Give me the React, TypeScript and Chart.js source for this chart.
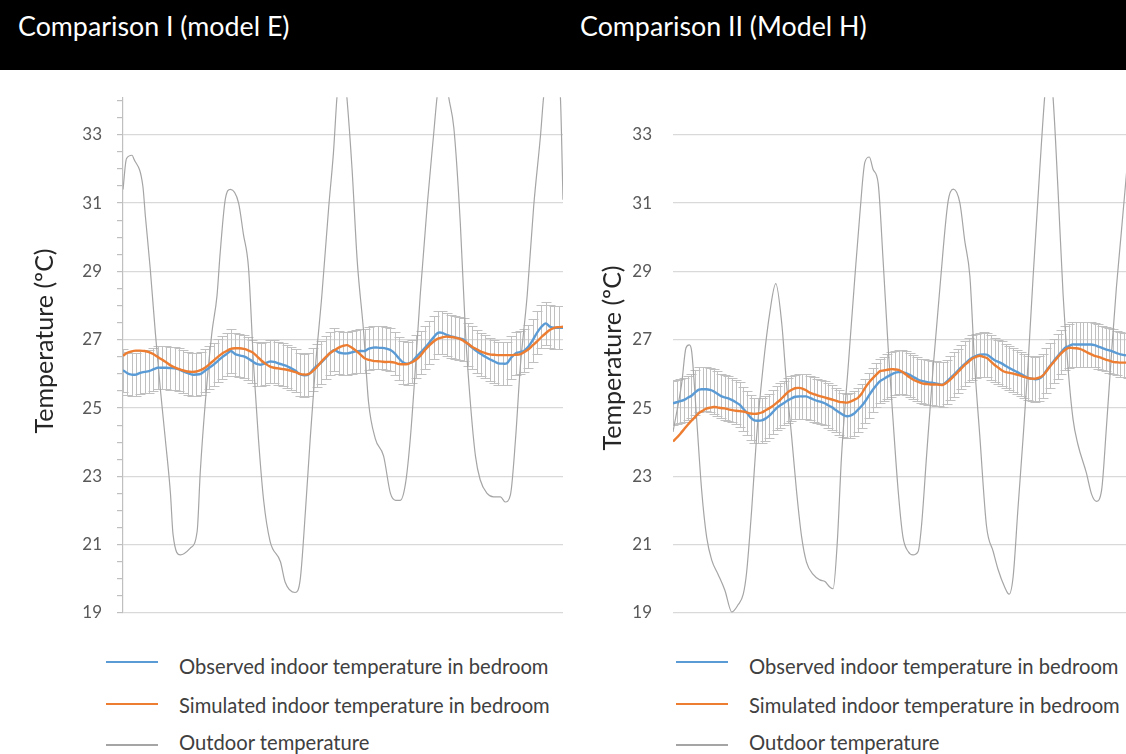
import React, { useEffect, useRef } from "react";
import { Chart, registerables } from "chart.js";

Chart.register(...registerables);

const FONT = "Lato, 'Open Sans', sans-serif";
const BLUE = "#5B9BD5";
const ORANGE = "#ED7D31";
const OUTDOOR = "#A5A5A5";
const ERRBAR = "#C0C0C0";

const yLabelValues = [19, 21, 23, 25, 27, 29, 31, 33];

// ---------- Comparison I (model E) : hourly values, hour 0..102 ----------
const p1Observed = [
  26.11, 26.02, 25.98, 25.98, 26.03, 26.06, 26.08, 26.13, 26.18, 26.18,
  26.18, 26.17, 26.16, 26.13, 26.07, 26.02, 25.98, 25.98, 26.0, 26.09,
  26.18, 26.27, 26.38, 26.49, 26.58, 26.67, 26.58, 26.54, 26.51, 26.45,
  26.37, 26.29, 26.27, 26.31, 26.36, 26.35, 26.31, 26.27, 26.23, 26.16,
  26.09, 25.99, 25.96, 25.98, 26.12, 26.24, 26.34, 26.47, 26.61, 26.7,
  26.63, 26.6, 26.6, 26.63, 26.66, 26.67, 26.67, 26.74, 26.77, 26.77,
  26.76, 26.74, 26.7, 26.6, 26.45, 26.33, 26.3, 26.36, 26.5, 26.63,
  26.76, 26.91, 27.07, 27.2, 27.2, 27.14, 27.1, 27.07, 27.04, 27.0,
  26.87, 26.76, 26.66, 26.58, 26.5, 26.43, 26.37, 26.31, 26.3, 26.31,
  26.48, 26.6, 26.64, 26.68, 26.8, 26.99, 27.21, 27.38, 27.48, 27.38,
  27.35, 27.35, 27.35,
];
const p1Simulated = [
  26.53, 26.62, 26.66, 26.68, 26.68, 26.67, 26.64, 26.58, 26.5, 26.42,
  26.34, 26.25, 26.19, 26.14, 26.1, 26.07, 26.06, 26.07, 26.11, 26.18,
  26.28, 26.39, 26.5, 26.6, 26.67, 26.73, 26.75, 26.75, 26.73, 26.69,
  26.63, 26.52, 26.4, 26.3, 26.22, 26.18, 26.16, 26.14, 26.12, 26.09,
  26.05, 26.0, 25.98, 25.99, 26.08, 26.21, 26.36, 26.49, 26.61, 26.69,
  26.77, 26.82, 26.84, 26.77, 26.68, 26.57, 26.46, 26.41, 26.38, 26.37,
  26.36, 26.35, 26.35, 26.33, 26.29, 26.28, 26.29, 26.34, 26.42, 26.54,
  26.7, 26.83, 26.95, 27.03, 27.07, 27.09, 27.08, 27.06, 27.03, 26.96,
  26.88, 26.79, 26.72, 26.65, 26.61, 26.57, 26.56, 26.55, 26.55, 26.55,
  26.55, 26.56, 26.57, 26.64, 26.72, 26.84, 26.95, 27.08, 27.19, 27.29,
  27.35, 27.37, 27.38,
];
const p1OutdoorHours = [
  0, 0.8, 2.1, 2.5, 4.6, 5.2, 6.3, 7.5, 8.7, 9.8,
  11.0, 11.6, 13.3, 15.6, 17.2, 17.9, 19.1, 20.6, 21.8, 22.5,
  23.7, 24.9, 26.8, 27.9, 29.1, 30.3, 31.4, 32.6, 34.1, 36.5,
  37.6, 39.9, 41.1, 42.3, 43.4, 44.6, 46.1, 47.7, 48.8, 49.6,
  50.8, 51.9, 53.1, 54.3, 55.8, 56.9, 58.5, 60.4, 62.0, 63.2,
  64.3, 65.5, 66.6, 67.8, 68.9, 70.5, 72.0, 72.8, 74.2, 75.5,
  76.7, 78.2, 79.4, 80.5, 81.7, 82.8, 84.4, 85.9, 87.5, 88.6,
  89.8, 91.0, 92.1, 93.7, 95.2, 96.8, 97.5, 99.5, 101.4, 102,
];
const p1OutdoorTemps = [
  31.4, 32.3, 32.4, 32.3, 31.5, 30.6, 29.1, 27.2, 25.5, 24.1,
  22.5, 21.3, 20.7, 20.9, 21.4, 23.1, 25.2, 27.2, 28.3, 29.5,
  31.1, 31.4, 31.0, 30.1, 29.1, 26.2, 24.1, 22.3, 21.1, 20.5,
  19.9, 19.6, 20.0, 22.0, 24.1, 26.2, 28.3, 30.9, 32.5, 34.1,
  35.5, 34.1, 32.0, 29.3, 27.2, 25.2, 24.1, 23.6, 22.5, 22.3,
  22.3, 22.8, 24.1, 26.2, 28.3, 30.9, 33.0, 34.1, 35.3, 34.1,
  33.2, 30.4, 27.2, 25.2, 23.6, 22.9, 22.5, 22.4, 22.4, 22.25,
  22.45, 24.1, 26.2, 28.3, 30.9, 33.0, 34.1, 35.8, 34.1, 31.1,
];
const p1ErrorMargin = 0.63;

// ---------- Comparison II (Model H) : hourly values, hour 0..123 ----------
const p2Observed = [
  25.14, 25.17, 25.2, 25.24, 25.3, 25.36, 25.46, 25.54, 25.55, 25.55,
  25.53, 25.49, 25.42, 25.35, 25.31, 25.28, 25.23, 25.17, 25.1, 24.98,
  24.86, 24.72, 24.64, 24.63, 24.64, 24.69, 24.77, 24.88, 25.0, 25.08,
  25.15, 25.22, 25.28, 25.33, 25.34, 25.34, 25.34, 25.3, 25.25, 25.21,
  25.18, 25.14, 25.08, 25.02, 24.94, 24.87, 24.8, 24.76, 24.78, 24.84,
  24.95, 25.06, 25.2, 25.37, 25.53, 25.67, 25.79, 25.85, 25.92, 25.98,
  26.03, 26.05, 26.05, 26.02, 25.97, 25.91, 25.85, 25.8, 25.78, 25.75,
  25.74, 25.72, 25.7, 25.69, 25.77, 25.88, 25.98, 26.09, 26.2, 26.3,
  26.4, 26.48, 26.53, 26.56, 26.57, 26.56, 26.48, 26.4, 26.35, 26.3,
  26.23, 26.17, 26.11, 26.06, 26.0, 25.94, 25.88, 25.86, 25.84, 25.86,
  25.94, 26.1, 26.24, 26.38, 26.51, 26.64, 26.76, 26.81, 26.86, 26.86,
  26.86, 26.86, 26.86, 26.86, 26.84, 26.8, 26.76, 26.72, 26.69, 26.65,
  26.61, 26.57, 26.55, 26.54,
];
const p2Simulated = [
  24.02, 24.13, 24.25, 24.38, 24.51, 24.63, 24.74, 24.85, 24.92, 24.98,
  25.01, 25.03, 25.02, 25.0, 24.99, 24.96, 24.94, 24.92, 24.91, 24.9,
  24.87, 24.84, 24.83, 24.84, 24.87, 24.93, 24.99, 25.06, 25.15, 25.24,
  25.35, 25.46, 25.53, 25.58, 25.59, 25.57, 25.52, 25.45, 25.41, 25.37,
  25.34, 25.31, 25.28, 25.25, 25.22, 25.18, 25.17, 25.16, 25.19, 25.24,
  25.3, 25.42, 25.6, 25.75, 25.87, 25.98, 26.08, 26.1, 26.12, 26.14,
  26.13, 26.12, 26.06, 25.98, 25.9, 25.83, 25.78, 25.74, 25.71, 25.7,
  25.69, 25.69, 25.68, 25.68, 25.74, 25.83, 25.94, 26.05, 26.16, 26.27,
  26.36, 26.45, 26.5, 26.53, 26.5, 26.46, 26.36, 26.26, 26.18, 26.1,
  26.05, 26.03, 26.01, 25.98, 25.95, 25.91, 25.88, 25.86, 25.86, 25.89,
  25.95, 26.08, 26.22, 26.35, 26.48, 26.6, 26.7, 26.76, 26.76, 26.75,
  26.73, 26.69, 26.63, 26.58, 26.53, 26.5, 26.46, 26.42, 26.39, 26.35,
  26.34, 26.33, 26.33, 26.33,
];
const p2OutdoorHours = [
  0, 2.35, 3.5, 4.4, 5.05, 6.4, 7.76, 9.1, 10.5, 12.2,
  14.05, 15.9, 17.6, 19.0, 19.9, 21.3, 22.6, 24.4, 26.2, 27.8,
  29.4, 30.7, 32.1, 33.4, 34.8, 36.1, 37.9, 39.7, 41.1, 42.4,
  43.3, 44.4, 45.6, 47.4, 49.2, 50.5, 51.9, 53.1, 54.1, 55.5,
  56.8, 58.2, 59.5, 60.9, 62.2, 63.6, 64.9, 66.3, 67.2, 68.6,
  70.4, 72.2, 74.4, 75.8, 77.6, 78.9, 80.3, 81.6, 83.0, 84.8,
  86.6, 87.9, 89.7, 90.9, 92.0, 93.3, 94.7, 96.0, 97.4, 99.2,
  100.5, 101.6, 102.8, 104.1, 105.5, 106.8, 108.2, 109.5, 111.8, 113.2,
  114.5, 115.9, 117.2, 118.6, 119.9, 121.3, 123.0, 124.0,
];
const p2OutdoorTemps = [
  24.3, 25.72, 26.76, 26.85, 26.66, 24.67, 22.58, 21.22, 20.54, 20.13,
  19.66, 19.03, 19.24, 19.55, 20.18, 22.06, 24.15, 26.24, 27.81, 28.64,
  27.49, 25.72, 24.15, 22.58, 21.22, 20.49, 20.13, 19.97, 19.92, 19.76,
  19.71, 21.01, 23.63, 26.24, 28.85, 30.63, 32.2, 32.35, 31.99, 31.57,
  29.37, 26.76, 24.67, 22.58, 21.22, 20.8, 20.7, 20.8, 21.54, 23.63,
  26.24, 28.54, 31.05, 31.41, 31.0, 29.9, 28.85, 26.24, 24.15, 21.54,
  20.8, 20.28, 19.76, 19.55, 20.07, 22.06, 24.15, 26.24, 28.85, 31.99,
  34.08, 35.3, 34.08, 31.46, 28.33, 26.24, 24.67, 23.94, 23.1, 22.48,
  22.27, 22.58, 24.4, 26.6, 28.5, 30.2, 32.3, 33.5,
];
const p2ErrorMargin = 0.65;

const legendLabels = [
  "Observed indoor temperature in bedroom",
  "Simulated indoor temperature in bedroom",
  "Outdoor temperature",
];

const errorBarPlugin = {
  id: "errorBars",
  beforeDatasetsDraw(chart: any, _args: any, opts: any) {
    if (!opts || opts.datasetIndex === undefined) return;
    const ds = chart.data.datasets[opts.datasetIndex];
    const xs = chart.scales.x;
    const ys = chart.scales.y;
    const a = chart.chartArea;
    const ctx = chart.ctx;
    ctx.save();
    ctx.beginPath();
    ctx.rect(a.left, a.top, a.right - a.left, a.bottom - a.top);
    ctx.clip();
    ctx.strokeStyle = opts.color;
    ctx.lineWidth = 1;
    ctx.beginPath();
    ds.data.forEach((p: any) => {
      const x = Math.round(xs.getPixelForValue(p.x)) + 0.5;
      const yTop = Math.round(ys.getPixelForValue(p.y + opts.margin)) + 0.5;
      const yBot = Math.round(ys.getPixelForValue(p.y - opts.margin)) + 0.5;
      ctx.moveTo(x, yTop);
      ctx.lineTo(x, yBot);
      ctx.moveTo(x - opts.cap, yTop);
      ctx.lineTo(x + opts.cap, yTop);
      ctx.moveTo(x - opts.cap, yBot);
      ctx.lineTo(x + opts.cap, yBot);
    });
    ctx.stroke();
    ctx.restore();
  },
};

const isLabelValue = (v: number) => yLabelValues.some((t) => Math.abs(t - v) < 1e-6);

function buildConfig(p: {
  observed: number[];
  simulated: number[];
  outHours: number[];
  outTemps: number[];
  margin: number;
  xMax: number;
  axisWidth: number;
  showAxisLine: boolean;
  padding: any;
}): any {
  const obs = p.observed.map((v, i) => ({ x: i, y: v }));
  const sim = p.simulated.map((v, i) => ({ x: i, y: v }));
  const out = p.outTemps.map((v, i) => ({ x: p.outHours[i], y: v }));
  return {
    type: "line",
    data: {
      datasets: [
        {
          label: legendLabels[1],
          data: sim,
          borderColor: ORANGE,
          borderWidth: 2.4,
          pointRadius: 0,
          tension: 0.3,
        },
        {
          label: legendLabels[0],
          data: obs,
          borderColor: BLUE,
          borderWidth: 2.4,
          pointRadius: 0,
          tension: 0.3,
        },
        {
          label: legendLabels[2],
          data: out,
          borderColor: OUTDOOR,
          borderWidth: 1.2,
          pointRadius: 0,
          cubicInterpolationMode: "monotone",
        },
      ],
    },
    options: {
      animation: false,
      responsive: false,
      devicePixelRatio: 1,
      layout: { padding: p.padding },
      plugins: {
        legend: { display: false },
        tooltip: { enabled: false },
        errorBars: { datasetIndex: 1, margin: p.margin, cap: 5, color: ERRBAR },
      },
      scales: {
        x: { type: "linear", min: 0, max: p.xMax, display: false },
        y: {
          min: 19,
          max: 34.1,
          afterFit: (s: any) => {
            s.width = p.axisWidth;
          },
          ticks: {
            stepSize: 0.5,
            includeBounds: false,
            autoSkip: false,
            maxTicksLimit: 100,
            padding: 15,
            color: "#595959",
            font: { family: FONT, size: 17 },
            callback: (v: any) => (isLabelValue(Number(v)) ? String(v) : ""),
          },
          grid: {
            color: (c: any) => (c.tick && isLabelValue(c.tick.value) ? "#D9D9D9" : "rgba(0,0,0,0)"),
            tickColor: () => (p.showAxisLine ? "#BFBFBF" : "rgba(0,0,0,0)"),
            tickLength: 6,
            lineWidth: 1.2,
          },
          border: { display: p.showAxisLine, color: "#BFBFBF", width: 1.2 },
        },
      },
    },
    plugins: [errorBarPlugin],
  };
}

function ChartCanvas(props: { config: () => any; left: number; top: number; width: number; height: number }) {
  const ref = useRef<HTMLCanvasElement | null>(null);
  useEffect(() => {
    if (!ref.current) return;
    const chart = new Chart(ref.current, props.config());
    return () => chart.destroy();
  }, []);
  return (
    <canvas
      ref={ref}
      width={props.width}
      height={props.height}
      style={{ position: "absolute", left: props.left, top: props.top, width: props.width, height: props.height }}
    />
  );
}

function Legend(props: { left: number }) {
  const rows = [
    { label: legendLabels[0], color: BLUE, w: 2.5, lineY: 662, textY: 666 },
    { label: legendLabels[1], color: ORANGE, w: 2.5, lineY: 704, textY: 705 },
    { label: legendLabels[2], color: OUTDOOR, w: 1.5, lineY: 745, textY: 742 },
  ];
  return (
    <>
      {rows.map((r) => (
        <React.Fragment key={r.label}>
          <div
            style={{
              position: "absolute",
              left: props.left,
              top: r.lineY - r.w / 2,
              width: 52,
              height: r.w,
              background: r.color,
            }}
          />
          <div
            style={{
              position: "absolute",
              left: props.left + 73,
              top: r.textY - 13,
              height: 26,
              lineHeight: "26px",
              fontFamily: FONT,
              fontSize: 20.2,
              color: "#404040",
              whiteSpace: "nowrap",
            }}
          >
            {r.label}
          </div>
        </React.Fragment>
      ))}
    </>
  );
}

function YTitle(props: { cx: number; cy: number }) {
  return (
    <div
      style={{
        position: "absolute",
        left: props.cx - 130,
        top: props.cy - 16,
        width: 260,
        height: 32,
        lineHeight: "32px",
        textAlign: "center",
        transform: "rotate(-90deg)",
        fontFamily: FONT,
        fontSize: 25,
        color: "#262626",
        whiteSpace: "nowrap",
      }}
    >
      Temperature (ºC)
    </div>
  );
}

export default function App() {
  useEffect(() => {
    document.body.style.margin = "0";
    document.body.style.overflow = "hidden";
  }, []);

  const config1 = () =>
    buildConfig({
      observed: p1Observed,
      simulated: p1Simulated,
      outHours: p1OutdoorHours,
      outTemps: p1OutdoorTemps,
      margin: p1ErrorMargin,
      xMax: 102,
      axisWidth: 123,
      showAxisLine: true,
      padding: { top: 0, bottom: 28, left: 0, right: 17 },
    });
  const config2 = () =>
    buildConfig({
      observed: p2Observed,
      simulated: p2Simulated,
      outHours: p2OutdoorHours,
      outTemps: p2OutdoorTemps,
      margin: p2ErrorMargin,
      xMax: 152,
      axisWidth: 73,
      showAxisLine: false,
      padding: { top: 0, bottom: 28, left: 0, right: 15 },
    });

  const headerText = {
    position: "absolute" as const,
    top: 9,
    fontFamily: FONT,
    fontSize: 26.8,
    lineHeight: "34px",
    color: "#ffffff",
    whiteSpace: "nowrap" as const,
  };

  return (
    <div
      style={{
        position: "absolute",
        left: 0,
        top: 0,
        width: 1126,
        height: 754,
        overflow: "hidden",
        background: "#ffffff",
      }}
    >
      <div style={{ position: "absolute", left: 0, top: 0, width: 1126, height: 70, background: "#000000" }} />
      <div style={{ ...headerText, left: 18 }}>Comparison I (model E)</div>
      <div style={{ ...headerText, left: 580 }}>Comparison II (Model H)</div>

      <ChartCanvas config={config1} left={0} top={72} width={580} height={569} />
      <ChartCanvas config={config2} left={600} top={72} width={650} height={569} />

      <YTitle cx={43} cy={341} />
      <YTitle cx={611} cy={358} />

      <Legend left={106} />
      <Legend left={676} />
    </div>
  );
}
